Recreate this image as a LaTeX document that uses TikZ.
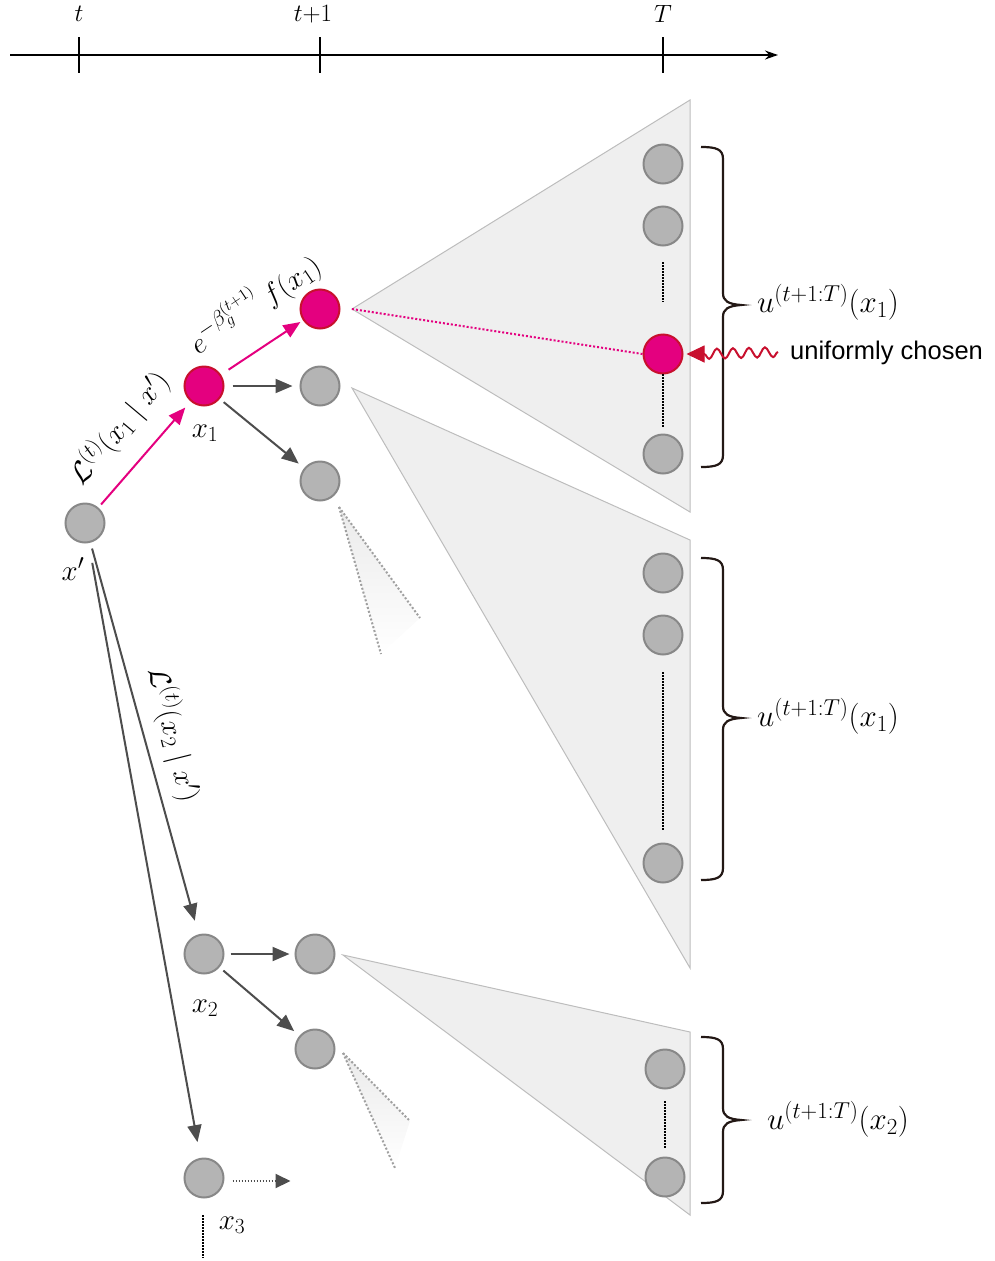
\RequirePackage{fix-cm}
\documentclass[tikz,border=0pt]{standalone}
\usepackage{fontspec}
\newfontfamily\sansf{Liberation Sans}
\DeclareMathSizes{29}{29}{21.5}{16}
\DeclareMathSizes{31}{31}{23}{17}
\usetikzlibrary{arrows.meta,decorations.pathmorphing}
\definecolor{pk}{HTML}{E4007F}
\definecolor{pkline}{HTML}{C8102E}
\definecolor{nodegray}{HTML}{B4B4B4}
\definecolor{nodeedge}{HTML}{888888}
\definecolor{darkarrow}{HTML}{4D4D4D}
\definecolor{trifill}{HTML}{EFEFEF}
\definecolor{triedge}{HTML}{BDBDBD}
\definecolor{wavyred}{HTML}{C8102E}
\definecolor{bracecol}{HTML}{231815}
\definecolor{dotgray}{HTML}{A0A0A0}
\begin{document}
\begin{tikzpicture}[x=1pt,y=-1pt,
  gnode/.style={circle,minimum size=39pt,inner sep=0pt,fill=nodegray,draw=nodeedge,line width=2pt},
  pnode/.style={circle,minimum size=39pt,inner sep=0pt,fill=pk,draw=pkline,line width=2pt},
  lbl/.style={inner sep=0pt,font=\fontsize{29}{33}\selectfont},
  ulbl/.style={inner sep=0pt,font=\fontsize{31}{35}\selectfont},
  axlbl/.style={inner sep=0pt,font=\fontsize{25}{29}\selectfont},
  pkarrow/.style={draw=pk,line width=2pt,-{Triangle[length=17pt,width=14pt]},pk},
  gyarrow/.style={draw=darkarrow,line width=2pt,-{Triangle[length=17pt,width=14pt]},darkarrow},
  tri/.style={fill=trifill,draw=triedge,line width=1pt},
  vdots/.style={black,line width=2pt,dash pattern=on 1.5pt off 1.5pt},
  gdots/.style={dotgray,line width=2pt,dash pattern=on 2pt off 2pt},
  bracestyle/.style={bracecol,line width=2.2pt}
]
\useasboundingbox (0,0) rectangle (994,1261);

% time axis
\coordinate (axs) at (10,55);
\coordinate (axe) at (778,55);
\draw[line width=1.5pt,-{Stealth[length=13pt,width=9pt]}] (axs) -- (axe);
\foreach \xx/\nm in {79/ta,320/tb,663/tc}{
  \coordinate (\nm top) at (\xx,37);
  \coordinate (\nm bot) at (\xx,73);
  \draw[line width=2pt] (\nm top) -- (\nm bot);
}
\node[axlbl] (lt) at (79,14) {$t$};
\node[axlbl] (lt1) at (313,14) {$t{+}1$};
\node[axlbl] (lT) at (663,14) {$T$};

% big triangles
\coordinate (T1a) at (352,309); \coordinate (T1b) at (690,100); \coordinate (T1c) at (690,512);
\coordinate (T2a) at (352,388); \coordinate (T2b) at (690,540); \coordinate (T2c) at (690,968);
\coordinate (T3a) at (343,955); \coordinate (T3b) at (690,1032); \coordinate (T3c) at (690,1215);
\draw[tri] (T1a) -- (T1b) -- (T1c) -- cycle;
\draw[tri] (T2a) -- (T2b) -- (T2c) -- cycle;
\draw[tri] (T3a) -- (T3b) -- (T3c) -- cycle;

% small faded triangles
\coordinate (m1a) at (339,507); \coordinate (m1b) at (381,654); \coordinate (m1c) at (420,618);
\coordinate (m2a) at (343,1053); \coordinate (m2b) at (395,1168); \coordinate (m2c) at (410,1121);
\shade[top color=black!8,bottom color=white] (m1a) -- (m1b) -- (m1c) -- cycle;
\shade[top color=black!8,bottom color=white] (m2a) -- (m2b) -- (m2c) -- cycle;
\draw[gdots] (m1a) -- (m1b);
\draw[gdots] (m1a) -- (m1c);
\draw[gdots] (m2a) -- (m2b);
\draw[gdots] (m2a) -- (m2c);

% nodes
\node[gnode] (xp) at (85,523) {};
\node[pnode] (x1) at (204,386) {};
\node[pnode] (a1) at (320,309) {};
\node[gnode] (a2) at (320,386) {};
\node[gnode] (a3) at (320,481) {};
\node[gnode] (x2) at (204,954) {};
\node[gnode] (b1) at (315,954) {};
\node[gnode] (b2) at (315,1049) {};
\node[gnode] (x3) at (204,1178) {};

% leaf nodes in triangle 1
\node[gnode] (p1) at (663,164) {};
\node[gnode] (p2) at (663,226) {};
\node[pnode] (p3) at (663,354) {};
\node[gnode] (p4) at (663,454) {};
\coordinate (d1s) at (663,262); \coordinate (d1e) at (663,302);
\coordinate (d2s) at (663,374); \coordinate (d2e) at (663,428);
\draw[vdots] (d1s) -- (d1e);
\draw[vdots] (d2s) -- (d2e);
% triangle 2
\node[gnode] (q1) at (663,573) {};
\node[gnode] (q2) at (663,635) {};
\node[gnode] (q3) at (663,863) {};
\coordinate (d3s) at (663,672); \coordinate (d3e) at (663,830);
\draw[vdots] (d3s) -- (d3e);
% triangle 3
\node[gnode] (r1) at (665,1069) {};
\node[gnode] (r2) at (665,1177) {};
\coordinate (d4s) at (665,1101); \coordinate (d4e) at (665,1148);
\draw[vdots] (d4s) -- (d4e);

% pink dotted line
\draw[pk,line width=2pt,dash pattern=on 2pt off 2pt] (T1a) -- (p3.west);

% arrows
\draw[pkarrow,shorten <=4pt,shorten >=8pt] (xp) -- (x1);
\draw[pkarrow,shorten <=9pt,shorten >=3pt] (x1) -- (a1);
\draw[gyarrow,shorten <=8pt,shorten >=7pt] (x1) -- (a2);
\draw[gyarrow,shorten <=5pt,shorten >=7pt] (x1) -- (a3);
\draw[gyarrow,shorten <=6pt,shorten >=14pt] (xp) -- (x2);
\draw[gyarrow,shorten <=20pt,shorten >=16pt] (xp) -- (x3);
\draw[gyarrow,shorten <=6pt,shorten >=5pt] (x2) -- (b1);
\draw[gyarrow,shorten <=5pt,shorten >=7pt] (x2) -- (b2);
\draw[darkarrow,line width=2pt,dash pattern=on 1.5pt off 1.5pt,-{Triangle[length=15pt,width=14pt]}] ([xshift=8pt,yshift=-3pt]x3.east) -- ++(58,0) coordinate (x3end);
\coordinate (x3ds) at (203,1215); \coordinate (x3de) at (203,1258);
\draw[vdots] (x3ds) -- (x3de);

% node labels
\node[lbl] (lxp) at (73,569) {$x'$};
\node[lbl] (lx1) at (205,433) {$x_1$};
\node[lbl] (lx2) at (205,1008) {$x_2$};
\node[lbl] (lx3) at (232,1225) {$x_3$};

% edge labels
\node[lbl,rotate=50] (lL1) at (119,428) {$\mathcal{L}^{(t)}(x_1\mid x')$};
\node[lbl,rotate=34] (le) at (254,303) {$e^{-\beta_g^{(t+1)}}\,f(x_1)$};
\node[lbl,rotate=-76] (lL2) at (174,735) {$\mathcal{L}^{(t)}(x_2\mid x')$};

% braces
\foreach \ta/\tm/\tb/\nm in {147/305/467/br1, 558/718/880/br2, 1037/1120/1203/br3}{
  \coordinate (\nm s) at (701,\ta);
  \coordinate (\nm e) at (701,\tb);
  \coordinate (\nm tip) at (741,\tm);
  \draw[bracestyle] (\nm s) .. controls (716,\ta) and (723,\ta+2) .. (723,\ta+12)
     -- (723,\tm-12) .. controls (723,\tm-4) and (728,\tm-1) .. (\nm tip)
     .. controls (728,\tm+1) and (723,\tm+4) .. (723,\tm+12)
     -- (723,\tb-12) .. controls (723,\tb-2) and (716,\tb) .. (\nm e);
}
\node[ulbl] (u1) at (828,302) {$u^{(t+1:T)}(x_1)$};
\node[ulbl] (u2) at (828,716) {$u^{(t+1:T)}(x_1)$};
\node[ulbl] (u3) at (838,1119) {$u^{(t+1:T)}(x_2)$};

% uniformly chosen
\node[inner sep=0pt,anchor=west,font=\sansf\fontsize{25.5}{29}\selectfont] (uc) at (790,353) {uniformly chosen};
\draw[wavyred,line width=2pt,decorate,decoration={snake,amplitude=5pt,segment length=16pt,post length=0pt}] ([xshift=-12pt,yshift=1pt]uc.west) -- ([xshift=20pt]p3.east) coordinate (wvend);
\draw[wavyred,line width=1pt,-{Triangle[length=18pt,width=17pt]}] ([xshift=19pt]p3.east) -- ([xshift=3pt]p3.east);
\end{tikzpicture}
\end{document}
